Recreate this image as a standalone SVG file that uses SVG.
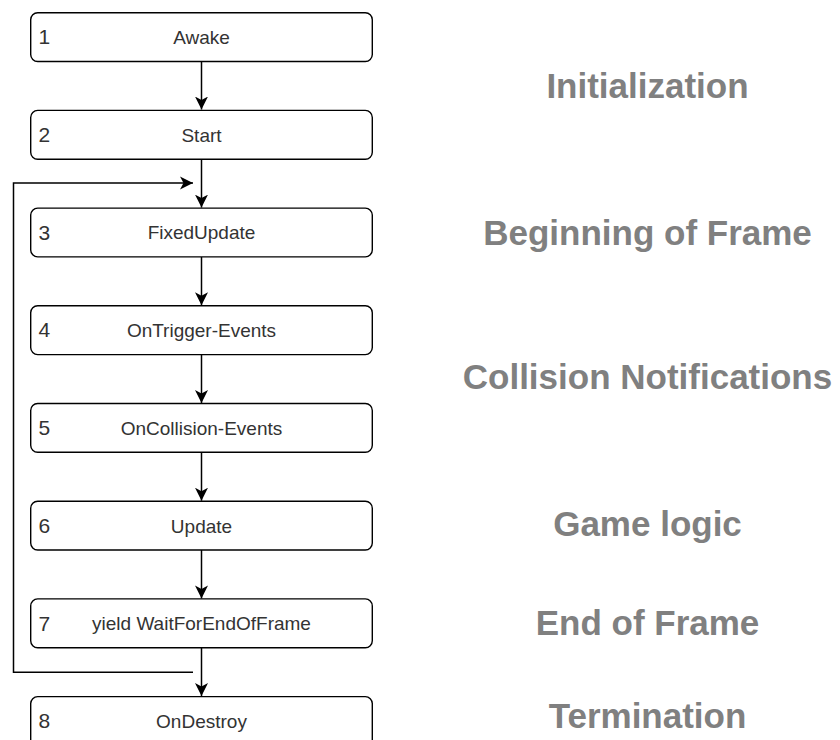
<svg xmlns="http://www.w3.org/2000/svg" width="840" height="740" viewBox="0 0 840 740">
  <defs>
    <marker id="arrow" markerUnits="userSpaceOnUse" markerWidth="14" markerHeight="14" viewBox="0 0 14 14" refX="13" refY="7" orient="auto">
      <path d="M0,0.5 L13,7 L0,13.5 L3.5,7 Z" fill="#000"/>
    </marker>
    <style>
      .box { fill: #ffffff; stroke: #000000; stroke-width: 1.4; }
      .num { font-family: "Liberation Sans", Arial, sans-serif; font-size: 21px; fill: #333333; }
      .lbl { font-family: "Liberation Sans", Arial, sans-serif; font-size: 19px; fill: #333333; text-anchor: middle; }
      .phase { font-family: "Liberation Sans", Arial, sans-serif; font-size: 35px; font-weight: bold; fill: #808080; text-anchor: middle; }
      .conn { fill: none; stroke: #000000; stroke-width: 1.5; marker-end: url(#arrow); }
    </style>
  </defs>
  <rect width="840" height="740" fill="#ffffff"/>

  <g id="connectors">
    <path class="conn" d="M201.5,61.7 L201.5,109.5"/>
    <path class="conn" d="M201.5,159.2 L201.5,207.6"/>
    <path class="conn" d="M201.5,256.9 L201.5,305.3"/>
    <path class="conn" d="M201.5,354.6 L201.5,403"/>
    <path class="conn" d="M201.5,452.3 L201.5,500.7"/>
    <path class="conn" d="M201.5,550 L201.5,598.4"/>
    <path class="conn" d="M201.5,647.7 L201.5,696.1"/>
    <path class="conn" d="M193,672.3 L13.5,672.3 L13.5,183 L193,183"/>
  </g>

  <g id="node1">
    <rect class="box" x="30.7" y="12.7" width="341.6" height="48.8" rx="7"/>
    <text class="num" x="38.5" y="44.3">1</text>
    <text class="lbl" x="201.5" y="44">Awake</text>
  </g>
  <g id="node2">
    <rect class="box" x="30.7" y="110.4" width="341.6" height="48.8" rx="7"/>
    <text class="num" x="38.5" y="142">2</text>
    <text class="lbl" x="201.5" y="141.7">Start</text>
  </g>
  <g id="node3">
    <rect class="box" x="30.7" y="208.1" width="341.6" height="48.8" rx="7"/>
    <text class="num" x="38.5" y="239.7">3</text>
    <text class="lbl" x="201.5" y="239.4">FixedUpdate</text>
  </g>
  <g id="node4">
    <rect class="box" x="30.7" y="305.8" width="341.6" height="48.8" rx="7"/>
    <text class="num" x="38.5" y="337.4">4</text>
    <text class="lbl" x="201.5" y="337.1">OnTrigger-Events</text>
  </g>
  <g id="node5">
    <rect class="box" x="30.7" y="403.5" width="341.6" height="48.8" rx="7"/>
    <text class="num" x="38.5" y="435.1">5</text>
    <text class="lbl" x="201.5" y="434.8">OnCollision-Events</text>
  </g>
  <g id="node6">
    <rect class="box" x="30.7" y="501.2" width="341.6" height="48.8" rx="7"/>
    <text class="num" x="38.5" y="532.8">6</text>
    <text class="lbl" x="201.5" y="532.5">Update</text>
  </g>
  <g id="node7">
    <rect class="box" x="30.7" y="598.9" width="341.6" height="48.8" rx="7"/>
    <text class="num" x="38.5" y="630.5">7</text>
    <text class="lbl" x="201.5" y="630.2">yield WaitForEndOfFrame</text>
  </g>
  <g id="node8">
    <rect class="box" x="30.7" y="696.6" width="341.6" height="60" rx="7"/>
    <text class="num" x="38.5" y="728.2">8</text>
    <text class="lbl" x="201.5" y="727.9">OnDestroy</text>
  </g>

  <g id="phases">
    <text class="phase" x="647.5" y="97.7">Initialization</text>
    <text class="phase" x="647.5" y="244.5">Beginning of Frame</text>
    <text class="phase" x="647.5" y="389.3">Collision Notifications</text>
    <text class="phase" x="647.5" y="536">Game logic</text>
    <text class="phase" x="647.5" y="635">End of Frame</text>
    <text class="phase" x="647.5" y="727.7">Termination</text>
  </g>
</svg>
